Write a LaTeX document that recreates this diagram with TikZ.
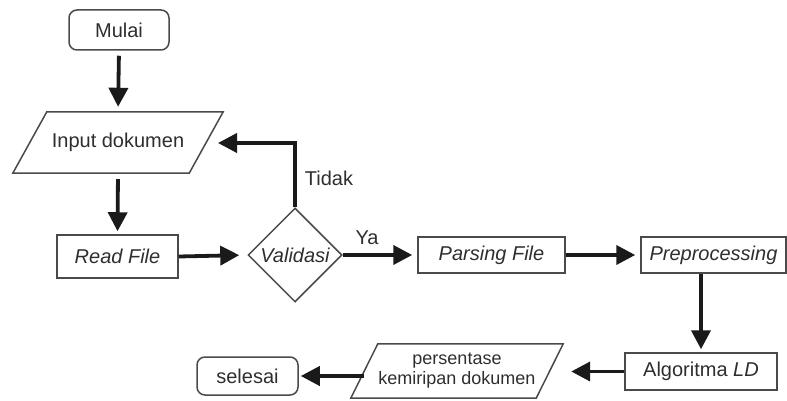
\documentclass[tikz,border=0pt]{standalone}
\usepackage{fontspec}
\setmainfont{Liberation Sans}
\usetikzlibrary{shapes.geometric,arrows.meta,calc}
\definecolor{boxc}{HTML}{4A4A4A}
\definecolor{txtc}{HTML}{2E2E2E}
\definecolor{arrc}{HTML}{1A1A1A}
\begin{document}
\begin{tikzpicture}[x=1pt,y=-1pt,
  every node/.style={font=\fontsize{20}{22}\selectfont, text=txtc, inner sep=0pt},
  term/.style={draw=boxc, line width=1.5pt, rounded corners=8pt, minimum width=100pt, minimum height=40pt},
  procbox/.style={draw=boxc, line width=1.5pt, minimum height=37pt},
  iobox/.style={minimum height=60pt},
  decis/.style={diamond, draw=boxc, line width=1.5pt, minimum width=94pt, minimum height=94pt, aspect=1},
  flow/.style={draw=arrc, line width=3.8pt, -{Triangle[length=19pt,width=19pt]}},
  para/.style={draw=boxc, line width=1.5pt}
]
\useasboundingbox (0,0) rectangle (787,401);

\node[term] (mulai) at (119,30) {Mulai};
\node[iobox, minimum width=210pt, minimum height=61pt] (inp) at (118,142.5) {Input dokumen};
\draw[para] ($(inp.north west)+(34,0)$) -- (inp.north east) -- ($(inp.south east)+(-34,0)$) -- (inp.south west) -- cycle;
\node[procbox, minimum width=121pt, minimum height=43pt] (read) at (117.5,256.5) {\itshape Read File};
\node[decis] (val) at (295,255) {\itshape Validasi};
\node[procbox, minimum width=147pt, minimum height=36pt] (parse) at (491.5,255) {\itshape Parsing File};
\node[procbox, minimum width=145pt, minimum height=36pt] (pre) at (713.5,255) {\itshape Preprocessing};
\node[procbox, minimum width=152pt, minimum height=37pt] (algo) at (701,371.5) {Algoritma \itshape LD};
\node[iobox, minimum width=212pt, minimum height=54pt, align=center, font=\fontsize{18}{20}\selectfont] (pers) at (457,371) {persentase\\kemiripan dokumen};
\draw[para] ($(pers.north west)+(27,0)$) -- (pers.north east) -- ($(pers.south east)+(-27,0)$) -- (pers.south west) -- cycle;
\node[term, minimum width=101pt, minimum height=38pt] (selesai) at (247.5,376) {selesai};

\coordinate (fb) at (218,143);

\draw[flow, shorten <=5pt, shorten >=5pt] (mulai.south) -- (inp.north);
\draw[flow, shorten <=6pt, shorten >=3pt] (inp.south) -- (read.north);
\draw[flow, shorten >=8pt] (read.east) -- (val.west);
\draw[flow] (val.north) -- (val.north |- fb) -- (fb);
\draw[flow, shorten >=5pt] (val.east) -- (parse.west);
\draw[flow, shorten >=5pt] (parse.east) -- (pre.west);
\draw[flow, shorten >=3pt] (algo.north |- pre.south) -- (algo.north);
\draw[flow, shorten >=8pt] (algo.west) -- (algo.west -| pers.east);
\draw[flow, shorten >=2pt] ([xshift=13.5pt]selesai.east -| pers.west) -- (selesai.east);

\node at (329,178) {Tidak};
\node at (367,238) {Ya};
\end{tikzpicture}
\end{document}
